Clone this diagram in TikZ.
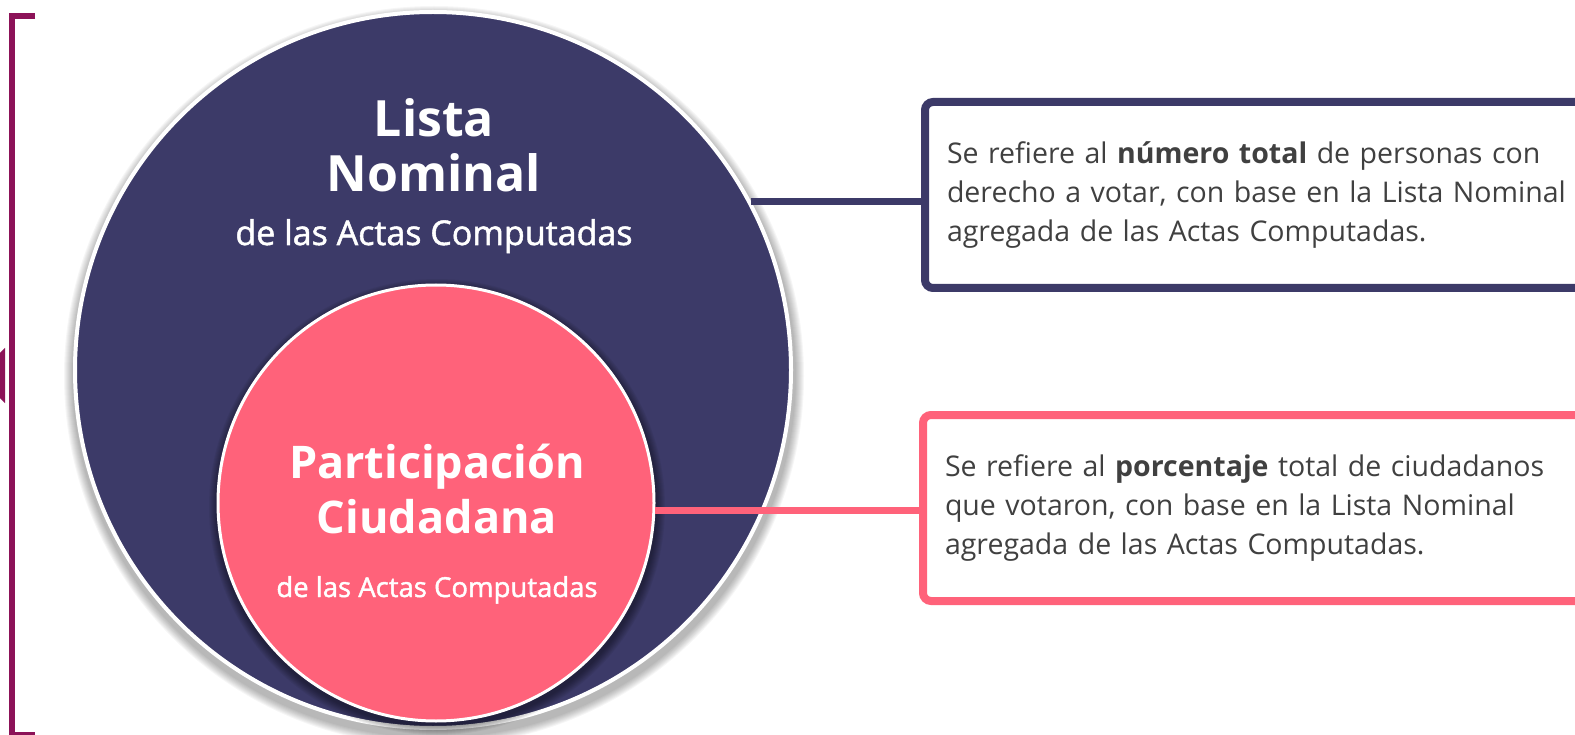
\documentclass[tikz,border=0pt]{standalone}
\usepackage{xcolor}
\usepackage{tikz}
\usepackage{fontspec}
\setmainfont{Open Sans}
\newfontfamily\semibold{Open Sans}[BoldFont={Open Sans}, BoldFeatures={FakeBold=1.5}]
\definecolor{navyblue}{RGB}{60, 58, 104}
\definecolor{rosepink}{RGB}{255, 98, 122}
\definecolor{plum}{RGB}{140, 18, 88}
\definecolor{textgray}{RGB}{64, 64, 64}
\usetikzlibrary{positioning, calc}

\begin{document}
\begin{tikzpicture}[x=1pt, y=-1pt,
    bigtitle/.style={text=white, font=\bfseries\fontsize{50}{55}\selectfont, inner sep=0pt, anchor=base},
    subtitle/.style={text=white, inner sep=0pt, anchor=base},
    infobox/.style={fill=white, rounded corners=8pt, line width=8pt, minimum height=186pt,
        text width=700pt, inner xsep=22pt, align=left, anchor=west, text=textgray,
        font=\fontsize{28.5}{39}\selectfont}]
    \useasboundingbox (0,0) rectangle (1575,735);

    % bracket on the left
    \draw[plum, line width=6pt] (35,16) -- (12,16) -- (12,735) -- (35,735);
    \fill[plum] (5,348) -- (5,403) -- (0,398) -- (0,353) -- cycle;

    % soft shadows
    \foreach \k in {1,...,9} {
        \fill[black, opacity=0.035] (434,376) circle ({361+\k});
    }
    \node[circle, fill=navyblue, draw=white, line width=4pt, minimum size=716pt, inner sep=0pt] (lista) at (433,370) {};
    \foreach \k in {1,...,9} {
        \fill[black, opacity=0.05] (437,507) circle ({219+\k});
    }
    \node[circle, fill=rosepink, draw=white, line width=3pt, minimum size=436pt, inner sep=0pt] (particip) at (436,503) {};

    \node[bigtitle] (lista-a) at (434,137) {Lista};
    \node[bigtitle] (lista-b) at (434,192) {Nominal};
    \node[subtitle, font=\semibold\bfseries\fontsize{34}{40}\selectfont] (lista-c) at (434,245) {de las Actas Computadas};

    \node[bigtitle, font=\bfseries\fontsize{45}{55}\selectfont] (particip-a) at (437,478) {Participación};
    \node[bigtitle, font=\bfseries\fontsize{45}{55}\selectfont] (particip-b) at (437,533) {Ciudadana};
    \node[subtitle, font=\semibold\bfseries\fontsize{27.5}{32}\selectfont] (particip-c) at (437,597) {de las Actas Computadas};

    % description boxes
    \node[infobox, draw=navyblue] (box-lista) at (921,195) {Se refiere al \textbf{número total} de personas con\\derecho a votar, con base en la Lista Nominal\\agregada de las Actas Computadas.};
    \node[infobox, draw=rosepink] (box-particip) at (919,508) {Se refiere al \textbf{porcentaje} total de ciudadanos\\que votaron, con base en la Lista Nominal\\agregada de las Actas Computadas.};

    \draw[navyblue, line width=7pt] (lista.28) -- (lista.28 -| box-lista.west);
    \draw[rosepink, line width=7pt] (particip.-2) -- (particip.-2 -| box-particip.west);
\end{tikzpicture}
\end{document}
